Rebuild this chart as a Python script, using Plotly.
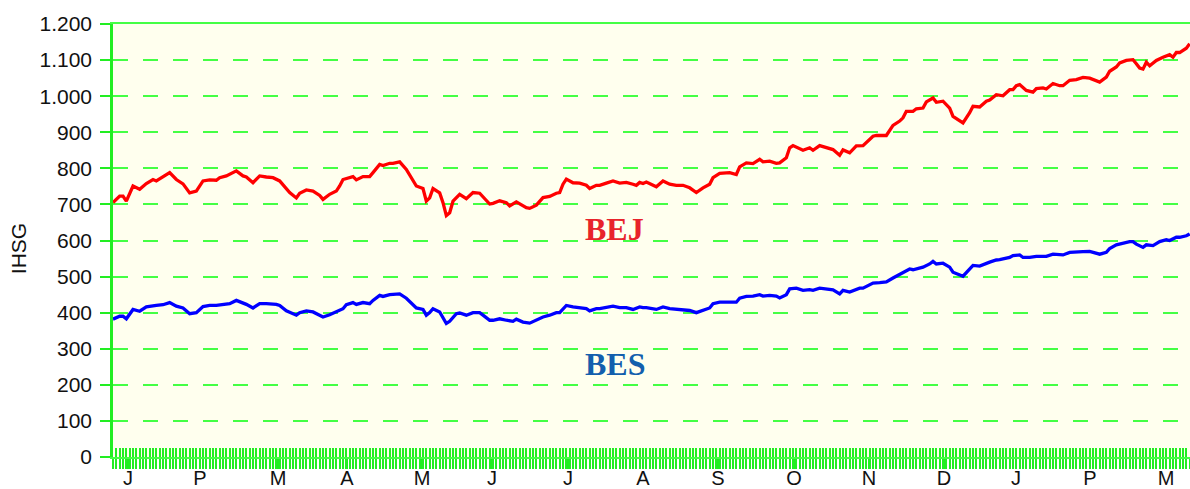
import plotly.graph_objects as go

# Trading-day index and index values
bej_day = [0,2,3,4,6,8,10,12,13,15,17,19,21,23,25,27,29,31,32,34,36,37,39,40,42,44,46,48,50,52,53,55,56,58,60,62,63,65,67,68,69,72,73,75,77,78,80,81,83,84,86,88,89,91,93,94,95,96,98,99,100,101,102,104,106,108,110,113,114,116,118,119,121,122,124,125,127,129,131,133,134,135,136,138,140,142,143,145,146,148,150,152,154,156,157,158,159,160,163,165,167,169,171,173,175,177,179,180,182,185,187,188,190,192,194,195,197,199,200,202,203,204,207,209,210,212,214,216,218,219,221,223,225,228,229,232,234,236,237,238,240,241,243,244,246,247,249,251,252,255,257,258,260,262,263,265,267,269,270,271,272,274,276,277,279,280,282,284,285,287,289,291,293,296,298,299,301,302,304,306,307,308,309,310,311,313,315,317,318,319,320,322,323]
bej_val = [705,723,723,709,751,742,758,769,765,777,788,769,757,732,737,765,768,767,774,779,788,793,779,776,760,779,776,774,765,745,733,718,731,740,737,725,714,728,737,751,769,777,768,777,777,788,811,808,814,814,818,797,781,751,744,709,718,744,732,705,669,677,709,728,716,733,731,701,703,710,705,696,707,701,691,689,698,719,722,731,733,756,770,760,759,753,744,753,753,759,765,759,761,756,753,761,758,762,749,765,756,753,753,746,733,746,756,774,786,788,783,804,815,813,825,818,820,814,815,829,857,863,850,857,850,863,857,852,836,851,843,862,863,889,891,891,919,931,940,958,958,965,967,984,995,983,986,967,944,926,954,972,970,986,989,1004,1001,1018,1018,1029,1032,1016,1011,1021,1023,1020,1035,1029,1029,1044,1046,1052,1050,1039,1053,1069,1081,1092,1099,1101,1090,1078,1075,1094,1084,1099,1108,1115,1108,1121,1121,1133,1145]

bes_day = [0,2,3,4,6,8,10,12,13,15,17,19,21,23,25,27,29,31,33,35,37,39,40,42,44,46,49,50,52,53,55,56,58,60,63,65,67,69,70,72,73,75,77,78,80,81,83,84,86,88,89,91,93,94,95,96,98,99,100,101,103,104,106,108,110,111,113,114,116,118,120,121,123,125,127,129,131,133,134,135,136,138,140,142,143,145,146,148,150,152,154,156,158,159,160,163,165,167,169,171,173,175,177,179,180,182,185,187,188,190,192,194,195,197,199,200,202,203,205,207,209,210,212,214,216,218,219,221,224,225,228,230,232,234,236,237,239,240,242,243,245,246,247,249,251,252,255,257,258,260,262,263,265,266,269,270,272,273,275,277,279,280,282,285,287,289,291,293,296,298,299,301,303,305,306,307,309,310,312,314,316,317,319,320,322,323]
bes_val = [382,390,390,383,409,404,416,420,420,422,428,418,413,397,400,417,420,420,423,425,434,427,423,413,425,425,423,420,405,401,393,400,405,402,388,394,402,411,422,428,423,428,425,434,448,445,450,450,452,440,431,413,409,393,400,411,402,385,370,376,397,399,393,400,400,393,379,379,383,379,376,382,374,371,379,388,393,400,400,411,420,416,413,411,405,411,411,414,418,414,414,409,416,414,414,409,416,411,409,409,406,400,406,413,425,429,429,429,440,445,446,450,446,448,446,441,450,466,468,462,464,462,468,466,463,452,462,457,468,468,482,483,485,496,505,510,521,519,523,526,535,542,535,537,526,512,501,519,531,529,537,540,546,547,553,558,560,553,553,556,556,556,562,560,567,569,569,570,562,567,578,588,593,597,597,590,581,588,586,597,602,600,609,609,613,618]

month_pos = [4.5, 26.1, 49.5, 70.2, 92.7, 113.7, 136.5, 159, 181.5, 204.3, 226.8, 249.3, 270.9, 293.1, 315.9]
month_lbl = ["J", "P", "M", "A", "M", "J", "J", "A", "S", "O", "N", "D", "J", "P", "M"]

y_ticks = list(range(0, 1201, 100))

GREEN = "#22ee22"
GRID = "#44ff44"
XR = [0, 323.1]

fig = go.Figure()
fig.add_trace(go.Scatter(x=bej_day, y=bej_val, mode="lines", name="BEJ",
                         line=dict(color="#ff0000", width=3.3)))
fig.add_trace(go.Scatter(x=bes_day, y=bes_val, mode="lines", name="BES",
                         line=dict(color="#0000ff", width=3.3)))
# invisible trace to anchor the overlay axis that carries the inner ticks
fig.add_trace(go.Scatter(x=[XR[0]], y=[0], xaxis="x2", mode="markers",
                         marker=dict(opacity=0), hoverinfo="skip", showlegend=False))

fig.update_layout(
    width=1190, height=489,
    margin=dict(l=113, r=0, t=24, b=23),
    paper_bgcolor="white",
    plot_bgcolor="#ffffee",
    showlegend=False,
    separators=",.",
    font=dict(family="Liberation Sans, Arial, sans-serif", color="#111111"),
    xaxis=dict(
        range=XR, tickmode="array", tickvals=month_pos, ticktext=month_lbl,
        showgrid=False, zeroline=False,
        showline=True, linecolor=GRID, linewidth=1.5, mirror=True,
        ticks="outside", ticklen=10, tickwidth=2, tickcolor=GREEN,
        tickfont=dict(size=20, color="#111111"),
        ticklabelstandoff=-8,
        minor=dict(tickmode="linear", tick0=0, dtick=1, ticks="outside",
                   ticklen=10, tickwidth=2, tickcolor=GREEN, showgrid=False),
    ),
    xaxis2=dict(
        range=XR, overlaying="x", anchor="y", side="bottom",
        showgrid=False, zeroline=False, showline=False, showticklabels=False,
        tickmode="linear", tick0=0, dtick=1,
        ticks="inside", ticklen=9, tickwidth=2, tickcolor=GREEN,
    ),
    yaxis=dict(
        range=[0, 1200], tickmode="array", tickvals=y_ticks,
        tickformat=",d",
        showgrid=True, gridcolor=GRID, gridwidth=1.5, griddash="15px,15px",
        zeroline=False,
        showline=True, linecolor=GREEN, linewidth=2.5,
        ticks="outside", ticklen=10, tickwidth=1.5, tickcolor=GREEN,
        tickfont=dict(size=21, color="#111111"),
        ticklabelstandoff=4,
    ),
    annotations=[
        dict(x=150.3, y=632, xref="x", yref="y", text="<b>BEJ</b>", showarrow=False,
             font=dict(family="Liberation Serif, Times New Roman, serif", size=32, color="#e8232b")),
        dict(x=150.6, y=259, xref="x", yref="y", text="<b>BES</b>", showarrow=False,
             font=dict(family="Liberation Serif, Times New Roman, serif", size=32, color="#135fad")),
        dict(x=-0.0882, y=0.48, xref="paper", yref="paper", text="IHSG", showarrow=False,
             xanchor="center", yanchor="middle",
             textangle=-90, font=dict(size=21, color="#111111")),
    ],
)

fig.write_html(
    "out.html",
    config={"displayModeBar": False},
    post_script="document.body.style.margin='0px';document.body.style.overflow='hidden';",
)
